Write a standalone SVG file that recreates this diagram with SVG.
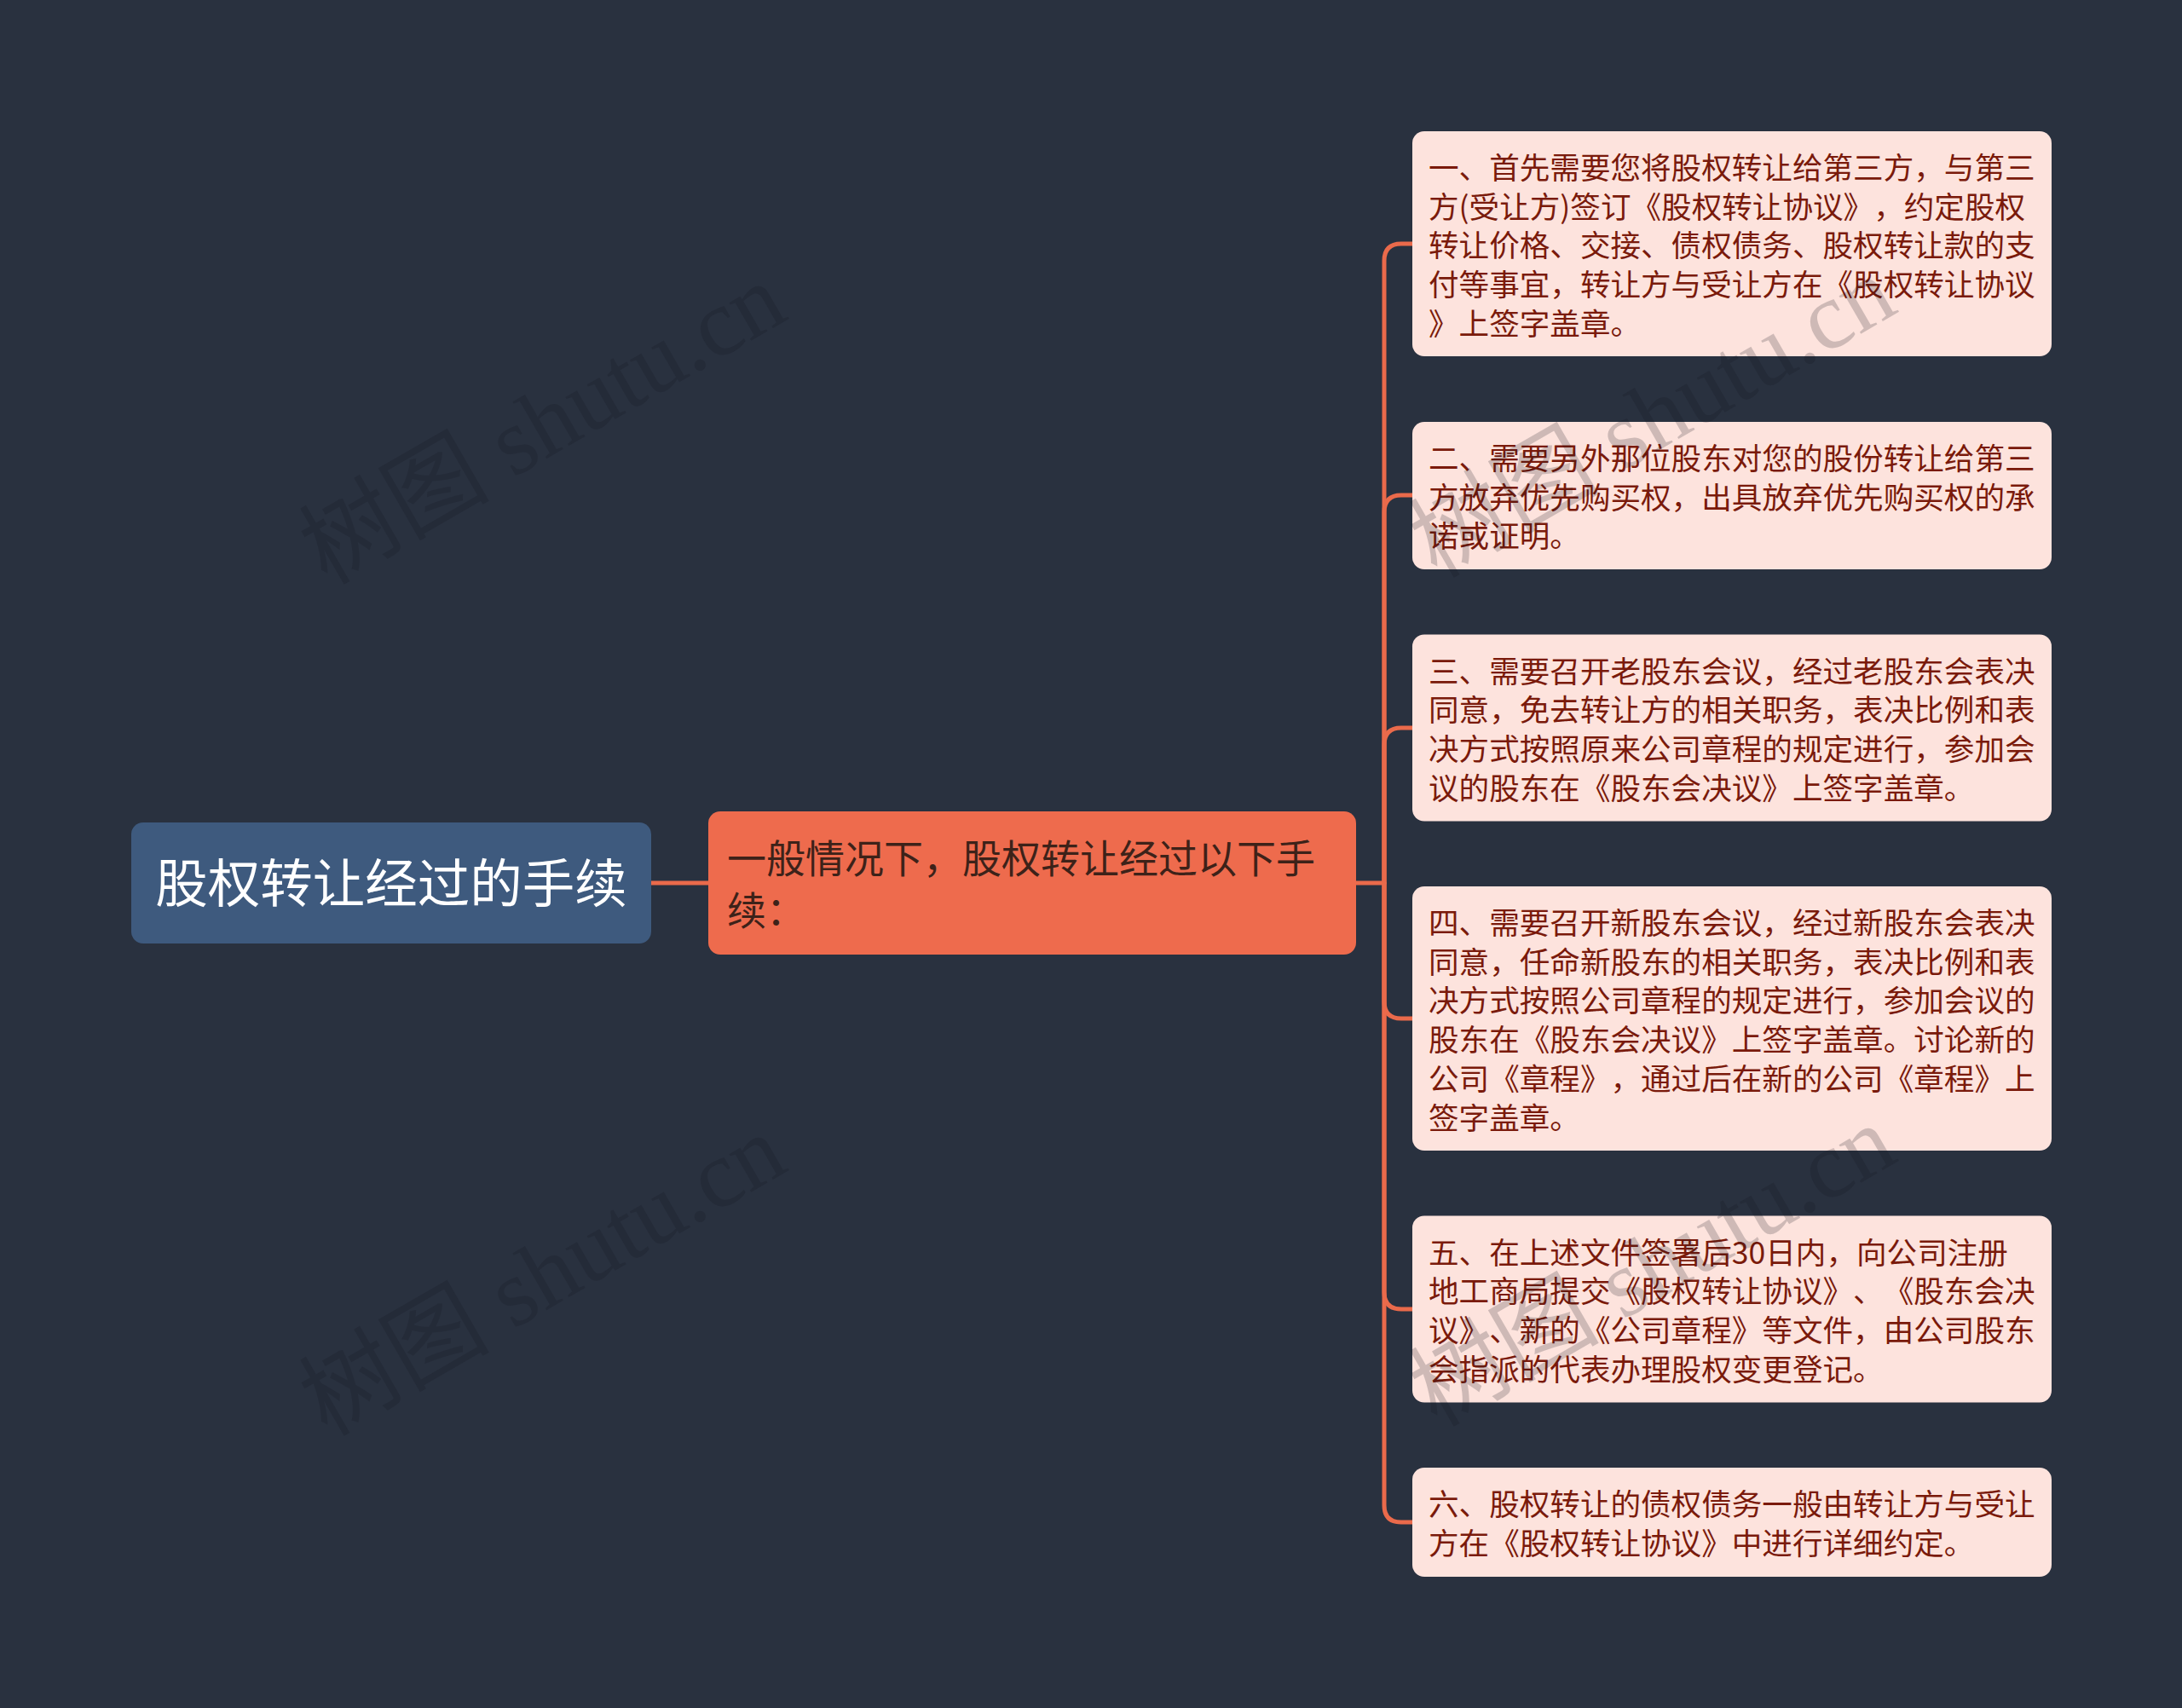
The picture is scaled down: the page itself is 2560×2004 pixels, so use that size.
<svg xmlns="http://www.w3.org/2000/svg" width="2560" height="2004" viewBox="0 0 2560 2004">
<defs>
<style>
.bg{fill:#29313f}
.root{fill:#3e5a7e}
.mid{fill:#ee6b4d}
.leaf{fill:#fde3dd}
.edge{fill:none;stroke:#ea6a4b;stroke-width:5;stroke-linecap:round;stroke-linejoin:round}
.t{font-family:"Noto Sans CJK SC","Noto Sans",sans-serif;text-spacing-trim:space-all}
.troot{font-size:61.5px;fill:#ffffff}
.tmid{font-size:46px;fill:#3d2219}
.tleaf{font-size:35.6px;fill:#7a1a0b}
.wm{font-family:"Liberation Serif","Noto Sans CJK SC",serif;font-size:112px;fill:#14161c;fill-opacity:0.2}
</style>
</defs>
<rect class="bg" x="0" y="0" width="2560" height="2004"/>

<g id="connectors">
<path class="edge" d="M764,1036 L831,1036"/>
<path class="edge" d="M1590,1036 L1624,1036 L1624,306 Q1624,286 1644,286 L1657,286"/>
<path class="edge" d="M1624,1036 L1624,601 Q1624,581 1644,581 L1657,581"/>
<path class="edge" d="M1624,1036 L1624,874 Q1624,854 1644,854 L1657,854"/>
<path class="edge" d="M1624,1036 L1624,1175 Q1624,1195 1644,1195 L1657,1195"/>
<path class="edge" d="M1624,1036 L1624,1516 Q1624,1536 1644,1536 L1657,1536"/>
<path class="edge" d="M1624,1036 L1624,1766 Q1624,1786 1644,1786 L1657,1786"/>
</g>

<g id="root">
<rect class="root" x="154" y="965" width="610" height="142" rx="14"/>
<text class="t troot" x="459" y="1059" text-anchor="middle">股权转让经过的手续</text>
</g>

<g id="middle">
<rect class="mid" x="831" y="952" width="760" height="168" rx="14"/>
<text class="t tmid" x="853" y="1024">一般情况下，股权转让经过以下手</text>
<text class="t tmid" x="853" y="1085">续：</text>
</g>

<g id="leaf1">
<rect class="leaf" x="1657" y="154" width="750" height="264" rx="14"/>
<text class="t tleaf" x="1676" y="210">一、首先需要您将股权转让给第三方，与第三</text>
<text class="t tleaf" x="1676" y="255.7">方(受让方)签订《股权转让协议》，约定股权</text>
<text class="t tleaf" x="1676" y="301.4">转让价格、交接、债权债务、股权转让款的支</text>
<text class="t tleaf" x="1676" y="347.1">付等事宜，转让方与受让方在《股权转让协议</text>
<text class="t tleaf" x="1676" y="392.8">》上签字盖章。</text>
</g>

<g id="leaf2">
<rect class="leaf" x="1657" y="495" width="750" height="173" rx="14"/>
<text class="t tleaf" x="1676" y="551">二、需要另外那位股东对您的股份转让给第三</text>
<text class="t tleaf" x="1676" y="596.7">方放弃优先购买权，出具放弃优先购买权的承</text>
<text class="t tleaf" x="1676" y="642.4">诺或证明。</text>
</g>

<g id="leaf3">
<rect class="leaf" x="1657" y="744.5" width="750" height="219" rx="14"/>
<text class="t tleaf" x="1676" y="800.5">三、需要召开老股东会议，经过老股东会表决</text>
<text class="t tleaf" x="1676" y="846.2">同意，免去转让方的相关职务，表决比例和表</text>
<text class="t tleaf" x="1676" y="891.9">决方式按照原来公司章程的规定进行，参加会</text>
<text class="t tleaf" x="1676" y="937.6">议的股东在《股东会决议》上签字盖章。</text>
</g>

<g id="leaf4">
<rect class="leaf" x="1657" y="1040" width="750" height="310" rx="14"/>
<text class="t tleaf" x="1676" y="1096">四、需要召开新股东会议，经过新股东会表决</text>
<text class="t tleaf" x="1676" y="1141.7">同意，任命新股东的相关职务，表决比例和表</text>
<text class="t tleaf" x="1676" y="1187.4">决方式按照公司章程的规定进行，参加会议的</text>
<text class="t tleaf" x="1676" y="1233.1">股东在《股东会决议》上签字盖章。讨论新的</text>
<text class="t tleaf" x="1676" y="1278.8">公司《章程》，通过后在新的公司《章程》上</text>
<text class="t tleaf" x="1676" y="1324.5">签字盖章。</text>
</g>

<g id="leaf5">
<rect class="leaf" x="1657" y="1426.5" width="750" height="219" rx="14"/>
<text class="t tleaf" x="1676" y="1482.5">五、在上述文件签署后30日内，向公司注册</text>
<text class="t tleaf" x="1676" y="1528.2">地工商局提交《股权转让协议》、《股东会决</text>
<text class="t tleaf" x="1676" y="1573.9">议》、新的《公司章程》等文件，由公司股东</text>
<text class="t tleaf" x="1676" y="1619.6">会指派的代表办理股权变更登记。</text>
</g>

<g id="leaf6">
<rect class="leaf" x="1657" y="1722" width="750" height="128" rx="14"/>
<text class="t tleaf" x="1676" y="1778">六、股权转让的债权债务一般由转让方与受让</text>
<text class="t tleaf" x="1676" y="1823.7">方在《股权转让协议》中进行详细约定。</text>
</g>

<g id="watermarks">
<text class="wm" x="637" y="535" text-anchor="middle" transform="rotate(-30 637 498)">树图 shutu.cn</text>
<text class="wm" x="637" y="1534" text-anchor="middle" transform="rotate(-30 637 1497)">树图 shutu.cn</text>
<text class="wm" x="1939" y="527" text-anchor="middle" transform="rotate(-30 1939 490)">树图 shutu.cn</text>
<text class="wm" x="1939" y="1523" text-anchor="middle" transform="rotate(-30 1939 1486)">树图 shutu.cn</text>
</g>
</svg>
